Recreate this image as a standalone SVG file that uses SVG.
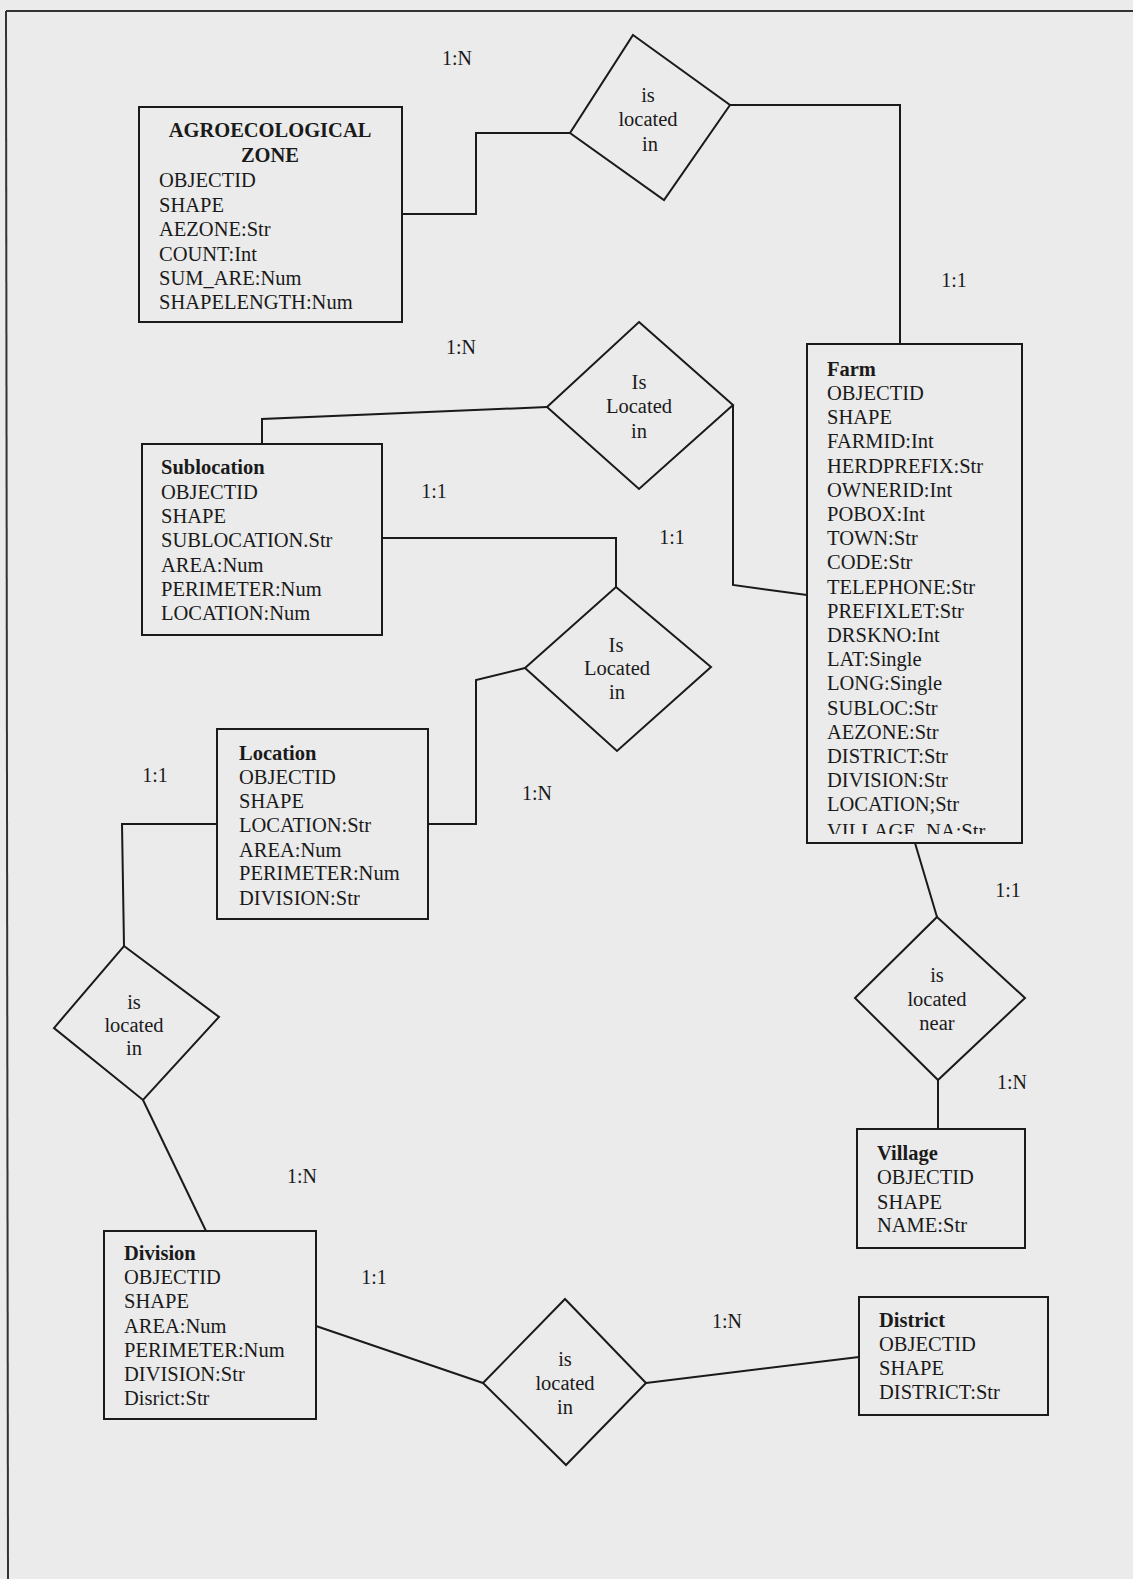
<svg xmlns="http://www.w3.org/2000/svg" width="1133" height="1579" viewBox="0 0 1133 1579">
<style>
  .box{fill:none;stroke:#1a1a1a;stroke-width:2}
  .dia{fill:none;stroke:#1a1a1a;stroke-width:2;stroke-linejoin:miter}
  .con{fill:none;stroke:#1a1a1a;stroke-width:2}
  .t{font-family:"Liberation Serif","Times New Roman",serif;font-size:20.5px;fill:#1a1a1a}
  .b{font-weight:bold}
  .c{text-anchor:middle}
  .lbl{font-family:"Liberation Serif","Times New Roman",serif;font-size:20px;fill:#1a1a1a;text-anchor:middle}
</style>
<defs>
  <clipPath id="farmClip"><rect x="807" y="344" width="215" height="490"/></clipPath>
</defs>
<rect x="0" y="0" width="1133" height="1579" fill="#ebebeb"/>
<g id="page-border" fill="none" stroke="#333" stroke-width="2">
  <line x1="6" y1="11" x2="1133" y2="11"/>
  <line x1="6" y1="11" x2="8" y2="1579"/>
</g>

<g id="connectors">
  <polyline class="con" points="402,214 476,214 476,133 570,133"/>
  <polyline class="con" points="730,105 900,105 900,344"/>
  <polyline class="con" points="262,444 262,419 547,407"/>
  <polyline class="con" points="733,405 733,585 807,595"/>
  <polyline class="con" points="382,538 616,538 616,587"/>
  <polyline class="con" points="525,668 476,680 476,824 428,824"/>
  <polyline class="con" points="217,824 122,824 124,946"/>
  <line class="con" x1="143" y1="1100" x2="206" y2="1231"/>
  <line class="con" x1="316" y1="1326" x2="483" y2="1383"/>
  <line class="con" x1="646" y1="1383" x2="859" y2="1357"/>
  <line class="con" x1="915" y1="843" x2="937" y2="917"/>
  <line class="con" x1="938" y1="1080" x2="938" y2="1129"/>
</g>

<g id="cardinalities">
  <text class="lbl" x="457" y="65">1:N</text>
  <text class="lbl" x="954" y="287">1:1</text>
  <text class="lbl" x="461" y="354">1:N</text>
  <text class="lbl" x="434" y="498">1:1</text>
  <text class="lbl" x="672" y="544">1:1</text>
  <text class="lbl" x="155" y="782">1:1</text>
  <text class="lbl" x="537" y="800">1:N</text>
  <text class="lbl" x="1008" y="897">1:1</text>
  <text class="lbl" x="1012" y="1089">1:N</text>
  <text class="lbl" x="302" y="1183">1:N</text>
  <text class="lbl" x="374" y="1284">1:1</text>
  <text class="lbl" x="727" y="1328">1:N</text>
</g>

<g id="agroecological-zone">
  <rect class="box" x="139" y="107" width="263" height="215"/>
  <text class="t b c" x="270" y="137">AGROECOLOGICAL</text>
  <text class="t b c" x="270" y="162">ZONE</text>
  <text class="t" x="159" y="187">OBJECTID</text>
  <text class="t" x="159" y="212">SHAPE</text>
  <text class="t" x="159" y="236">AEZONE:Str</text>
  <text class="t" x="159" y="261">COUNT:Int</text>
  <text class="t" x="159" y="285">SUM_ARE:Num</text>
  <text class="t" x="159" y="309">SHAPELENGTH:Num</text>
</g>

<g id="rel-agro-farm">
  <polygon class="dia" points="633,35 730,105 664,200 570,133"/>
  <text class="t c" x="648" y="102">is</text>
  <text class="t c" x="648" y="126">located</text>
  <text class="t c" x="650" y="151">in</text>
</g>

<g id="farm">
  <rect class="box" x="807" y="344" width="215" height="499"/>
  <text class="t b" x="827" y="376">Farm</text>
  <text class="t" x="827" y="400">OBJECTID</text>
  <text class="t" x="827" y="424">SHAPE</text>
  <text class="t" x="827" y="448">FARMID:Int</text>
  <text class="t" x="827" y="473">HERDPREFIX:Str</text>
  <text class="t" x="827" y="497">OWNERID:Int</text>
  <text class="t" x="827" y="521">POBOX:Int</text>
  <text class="t" x="827" y="545">TOWN:Str</text>
  <text class="t" x="827" y="569">CODE:Str</text>
  <text class="t" x="827" y="594">TELEPHONE:Str</text>
  <text class="t" x="827" y="618">PREFIXLET:Str</text>
  <text class="t" x="827" y="642">DRSKNO:Int</text>
  <text class="t" x="827" y="666">LAT:Single</text>
  <text class="t" x="827" y="690">LONG:Single</text>
  <text class="t" x="827" y="715">SUBLOC:Str</text>
  <text class="t" x="827" y="739">AEZONE:Str</text>
  <text class="t" x="827" y="763">DISTRICT:Str</text>
  <text class="t" x="827" y="787">DIVISION:Str</text>
  <text class="t" x="827" y="811">LOCATION;Str</text>
  <text class="t" x="827" y="838" clip-path="url(#farmClip)">VILLAGE_NA:Str</text>
</g>

<g id="rel-sublocation-farm">
  <polygon class="dia" points="639,322 733,405 639,489 547,407"/>
  <text class="t c" x="639" y="389">Is</text>
  <text class="t c" x="639" y="413">Located</text>
  <text class="t c" x="639" y="438">in</text>
</g>

<g id="sublocation">
  <rect class="box" x="142" y="444" width="240" height="191"/>
  <text class="t b" x="161" y="474">Sublocation</text>
  <text class="t" x="161" y="499">OBJECTID</text>
  <text class="t" x="161" y="523">SHAPE</text>
  <text class="t" x="161" y="547">SUBLOCATION.Str</text>
  <text class="t" x="161" y="572">AREA:Num</text>
  <text class="t" x="161" y="596">PERIMETER:Num</text>
  <text class="t" x="161" y="620">LOCATION:Num</text>
</g>

<g id="rel-sublocation-location">
  <polygon class="dia" points="616,587 711,667 617,751 525,668"/>
  <text class="t c" x="616" y="652">Is</text>
  <text class="t c" x="617" y="675">Located</text>
  <text class="t c" x="617" y="699">in</text>
</g>

<g id="location">
  <rect class="box" x="217" y="729" width="211" height="190"/>
  <text class="t b" x="239" y="760">Location</text>
  <text class="t" x="239" y="784">OBJECTID</text>
  <text class="t" x="239" y="808">SHAPE</text>
  <text class="t" x="239" y="832">LOCATION:Str</text>
  <text class="t" x="239" y="857">AREA:Num</text>
  <text class="t" x="239" y="880">PERIMETER:Num</text>
  <text class="t" x="239" y="905">DIVISION:Str</text>
</g>

<g id="rel-location-division">
  <polygon class="dia" points="124,946 219,1017 143,1100 54,1028"/>
  <text class="t c" x="134" y="1009">is</text>
  <text class="t c" x="134" y="1032">located</text>
  <text class="t c" x="134" y="1055">in</text>
</g>

<g id="division">
  <rect class="box" x="104" y="1231" width="212" height="188"/>
  <text class="t b" x="124" y="1260">Division</text>
  <text class="t" x="124" y="1284">OBJECTID</text>
  <text class="t" x="124" y="1308">SHAPE</text>
  <text class="t" x="124" y="1333">AREA:Num</text>
  <text class="t" x="124" y="1357">PERIMETER:Num</text>
  <text class="t" x="124" y="1381">DIVISION:Str</text>
  <text class="t" x="124" y="1405">Disrict:Str</text>
</g>

<g id="rel-division-district">
  <polygon class="dia" points="565,1299 646,1383 566,1465 483,1383"/>
  <text class="t c" x="565" y="1366">is</text>
  <text class="t c" x="565" y="1390">located</text>
  <text class="t c" x="565" y="1414">in</text>
</g>

<g id="district">
  <rect class="box" x="859" y="1297" width="189" height="118"/>
  <text class="t b" x="879" y="1327">District</text>
  <text class="t" x="879" y="1351">OBJECTID</text>
  <text class="t" x="879" y="1375">SHAPE</text>
  <text class="t" x="879" y="1399">DISTRICT:Str</text>
</g>

<g id="rel-farm-village">
  <polygon class="dia" points="937,917 1025,998 938,1080 855,998"/>
  <text class="t c" x="937" y="982">is</text>
  <text class="t c" x="937" y="1006">located</text>
  <text class="t c" x="937" y="1030">near</text>
</g>

<g id="village">
  <rect class="box" x="857" y="1129" width="168" height="119"/>
  <text class="t b" x="877" y="1160">Village</text>
  <text class="t" x="877" y="1184">OBJECTID</text>
  <text class="t" x="877" y="1209">SHAPE</text>
  <text class="t" x="877" y="1232">NAME:Str</text>
</g>
</svg>
